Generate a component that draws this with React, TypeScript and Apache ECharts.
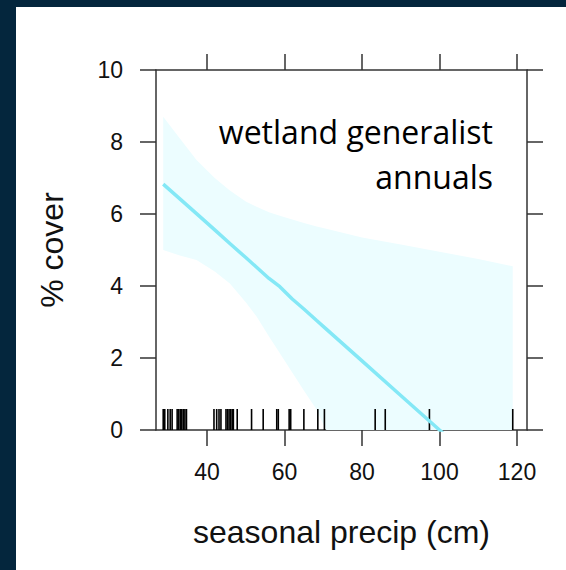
import React, { useEffect, useRef } from "react";
import * as echarts from "echarts";

// axis ticks
const xTicks = [40, 60, 80, 100, 120];
// x grid at which the fit and its band are read
const gridX = [28.7, 33, 37.3, 42, 45.9, 50, 52.8, 56, 58.8, 62, 65, 68.3, 70.5, 80, 90, 100, 110, 118.9];
const fitY = [6.83, 6.42, 6.01, 5.56, 5.18, 4.79, 4.52, 4.21, 3.98, 3.64, 3.36, 3.04, 2.83, 1.92, 0.96, 0.0, -0.95, -1.8];
const upperY = [8.7, 8.1, 7.5, 7.0, 6.65, 6.35, 6.2, 6.05, 5.95, 5.85, 5.75, 5.65, 5.6, 5.35, 5.15, 4.95, 4.75, 4.55];
const lowerY = [5.0, 4.85, 4.72, 4.4, 4.07, 3.55, 3.15, 2.6, 2.13, 1.6, 1.1, 0.56, 0.05, -1.5, -3.23, -4.95, -6.65, -8.15];
// rug of observed precipitation values
const rugX = [
  28.7, 29.1, 29.9, 30.5, 31.0, 32.3, 32.7, 33.1, 33.5, 33.9, 34.3, 34.7,
  41.8, 42.5, 43.1, 43.6, 44.9, 45.3, 45.7, 46.1, 46.5, 46.8, 47.8,
  51.5, 54.5, 58.0, 58.4, 61.2, 61.6, 65.0, 68.6, 70.3, 83.4, 86.0, 97.4, 118.9,
];
const panelLabel = ["wetland generalist", "annuals"];

const AXIS = "#333333";
const TICKFONT = "'Liberation Sans', Arial, sans-serif";

export default function App() {
  const ref = useRef<HTMLDivElement>(null);
  useEffect(() => {
    const chart = echarts.init(ref.current!, null, { renderer: "svg" });
    const line = { color: AXIS, width: 1.5 };
    const xBase = {
      type: "value",
      min: 26.84,
      max: 122.58,
      splitLine: { show: false },
      axisLine: { show: true, onZero: false, lineStyle: line },
      axisTick: { show: true, inside: false, length: 16, customValues: xTicks, lineStyle: line },
    };
    const yBase = {
      type: "value",
      min: 0,
      max: 10,
      interval: 2,
      splitLine: { show: false },
      axisLine: { show: true, onZero: false, lineStyle: line },
      axisTick: { show: true, inside: false, length: 16, lineStyle: line },
    };
    chart.setOption({
      animation: false,
      backgroundColor: "transparent",
      grid: { left: 156, right: 39, top: 70, bottom: 140, containLabel: false },
      xAxis: [
        {
          ...xBase,
          position: "bottom",
          axisLabel: {
            customValues: xTicks,
            margin: 30,
            fontSize: 23,
            fontFamily: TICKFONT,
            color: "#111",
          },
          name: "seasonal precip (cm)",
          nameLocation: "middle",
          nameGap: 86,
          nameTextStyle: { fontSize: 32, fontFamily: TICKFONT, color: "#111" },
        },
        { ...xBase, position: "top", axisLabel: { show: false } },
      ],
      yAxis: [
        {
          ...yBase,
          position: "left",
          axisLabel: { margin: 33, fontSize: 23, fontFamily: TICKFONT, color: "#111" },
          name: "% cover",
          nameLocation: "middle",
          nameGap: 88,
          nameRotate: 90,
          nameTextStyle: { fontSize: 32, fontFamily: TICKFONT, color: "#111" },
        },
        { ...yBase, position: "right", axisLabel: { show: false } },
      ],
      series: [
        {
          type: "custom",
          data: [[gridX[0], 0]],
          clip: true,
          silent: true,
          z: 1,
          renderItem: (params: any, api: any) => {
            const pts: number[][] = [];
            for (let i = 0; i < gridX.length; i++) pts.push(api.coord([gridX[i], upperY[i]]));
            for (let i = gridX.length - 1; i >= 0; i--) pts.push(api.coord([gridX[i], lowerY[i]]));
            return {
              type: "polygon",
              shape: { points: pts },
              style: { fill: "#ECFDFF", stroke: "none" },
            };
          },
        },
        {
          type: "custom",
          data: rugX.map((x) => [x, 0]),
          z: 2,
          renderItem: (params: any, api: any) => {
            const p = api.coord([api.value(0), 0]);
            return {
              type: "line",
              shape: { x1: p[0], y1: p[1], x2: p[0], y2: p[1] - 21 },
              style: { stroke: "#000", lineWidth: 1.6 },
            };
          },
          silent: true,
        },
        {
          type: "line",
          data: gridX.map((x, i) => [x, fitY[i]]),
          symbol: "none",
          z: 3,
          lineStyle: { color: "#84E8F6", width: 3.5 },
          silent: true,
        },
      ],
      graphic: [
        {
          type: "text",
          x: 493,
          y: 109,
          z: 100,
          style: {
            text: panelLabel.join("\n"),
            align: "right",
            verticalAlign: "top",
            fontSize: 32,
            fontFamily: "'Open Sans', sans-serif",
            lineHeight: 45,
            fill: "#000",
          },
        },
      ],
    });
    return () => chart.dispose();
  }, []);

  return (
    <div style={{ position: "fixed", left: 0, top: 0, width: 566, height: 570, background: "#04263d" }}>
      <div style={{ position: "absolute", left: 16, top: 7, right: 0, bottom: 0, background: "#ffffff" }} />
      <div ref={ref} style={{ position: "absolute", left: 0, top: 0, width: 566, height: 570 }} />
    </div>
  );
}
